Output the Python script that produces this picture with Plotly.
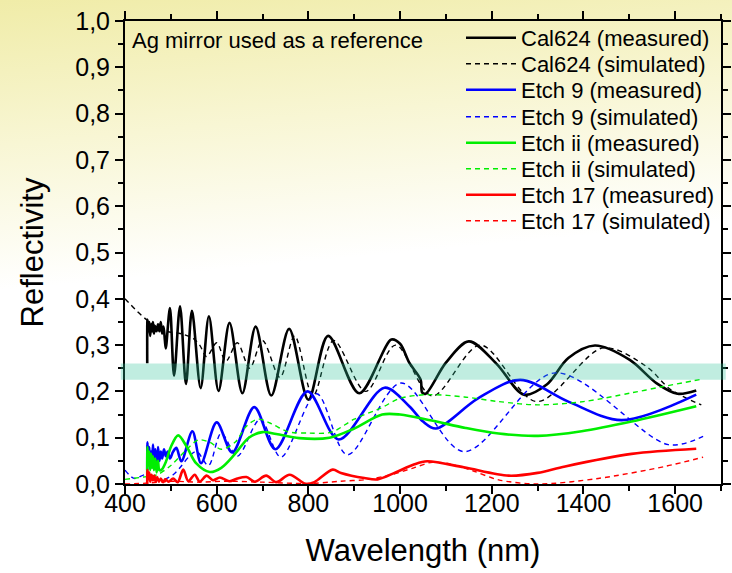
import base64
import plotly.graph_objects as go

# ---------------- data ----------------
cal_meas_wl = [448.5, 449, 451, 453, 455, 457, 459, 461, 463, 466, 469, 472, 475, 478, 481, 484, 487, 489,
               498, 507, 520, 533, 546, 565, 583, 604, 628, 656, 685, 719, 758, 800, 843, 911, 981, 1000,
               1020, 1045, 1048, 1056, 1100, 1150, 1210, 1270, 1320, 1367, 1425, 1501, 1559, 1605, 1646]
cal_meas_r = [0.261, 0.355, 0.33, 0.35, 0.32, 0.345, 0.33, 0.35, 0.325, 0.34, 0.33, 0.345, 0.33, 0.35, 0.325, 0.34, 0.31, 0.293,
              0.38, 0.234, 0.384, 0.216, 0.374, 0.207, 0.362, 0.201, 0.348, 0.196, 0.34, 0.191, 0.335, 0.182, 0.32, 0.196, 0.312, 0.303,
              0.262, 0.225, 0.198, 0.195, 0.262, 0.308, 0.26, 0.193, 0.215, 0.272, 0.299, 0.268, 0.218, 0.195, 0.202]

cal_sim_wl = [400, 447, 490, 520, 548, 563, 578, 600, 620, 645, 672, 700, 738, 770, 810, 855, 925, 990,
              1070, 1175, 1298, 1443, 1537, 1590, 1657]
cal_sim_r = [0.40, 0.355, 0.33, 0.325, 0.315, 0.30, 0.275, 0.305, 0.265, 0.305, 0.25, 0.31, 0.23, 0.32, 0.19, 0.31, 0.20, 0.30,
             0.19, 0.30, 0.178, 0.294, 0.254, 0.204, 0.171]

e9_meas_wl = [448.5, 449, 451, 453, 455, 457, 459, 461, 463, 466, 469, 472, 475, 478, 481, 485, 489, 493, 498, 505,
              512, 523, 547, 566, 600, 634, 682, 728, 798, 866, 966, 1020, 1050, 1078, 1170, 1262, 1367, 1483, 1646]
e9_meas_r = [0.03, 0.09, 0.05, 0.08, 0.04, 0.07, 0.045, 0.085, 0.05, 0.075, 0.04, 0.08, 0.05, 0.07, 0.055, 0.075, 0.06, 0.07, 0.055, 0.07,
             0.078, 0.049, 0.114, 0.045, 0.133, 0.068, 0.166, 0.075, 0.2, 0.096, 0.208, 0.168, 0.135, 0.12, 0.185, 0.225, 0.178, 0.138, 0.193]

e9_sim_wl = [400, 420, 445, 475, 505, 555, 582, 610, 645, 695, 740, 818, 885, 1002, 1139, 1338, 1585, 1661]
e9_sim_r = [0.03, 0.012, 0.02, 0.008, 0.02, 0.07, 0.04, 0.11, 0.06, 0.14, 0.058, 0.195, 0.063, 0.218, 0.07, 0.24, 0.085, 0.103]

eii_meas_wl = [448.5, 449, 451, 453, 455, 457, 459, 461, 463, 466, 469, 472, 475, 480, 490, 500, 516, 535, 555, 585,
               610, 640, 670, 700, 730, 780, 846, 900, 961, 1000, 1069, 1143, 1215, 1301, 1396, 1505, 1646]
eii_meas_r = [0.01, 0.08, 0.04, 0.07, 0.03, 0.065, 0.035, 0.06, 0.03, 0.055, 0.025, 0.05, 0.03, 0.031, 0.05, 0.08, 0.105, 0.08, 0.045, 0.026,
              0.035, 0.065, 0.1, 0.112, 0.108, 0.099, 0.1, 0.12, 0.15, 0.15, 0.137, 0.121, 0.109, 0.104, 0.114, 0.135, 0.168]

eii_sim_wl = [400, 440, 470, 500, 530, 560, 585, 610, 640, 665, 690, 720, 755, 800, 850, 900, 960, 1000, 1060,
              1140, 1215, 1300, 1400, 1505, 1577, 1661]
eii_sim_r = [0.01, 0.015, 0.02, 0.04, 0.07, 0.095, 0.09, 0.075, 0.09, 0.125, 0.14, 0.13, 0.113, 0.11, 0.112, 0.14, 0.165, 0.185, 0.193,
             0.188, 0.178, 0.171, 0.178, 0.197, 0.211, 0.227]

e17_meas_wl = [448.5, 449, 451, 453, 455, 458, 461, 464, 467, 470, 474, 478, 483, 488, 495, 505, 515, 527, 538, 552,
               563, 578, 592, 607, 628, 645, 665, 683, 708, 730, 759, 795, 813, 853, 871, 922, 951, 990, 1030, 1059,
               1139, 1237, 1300, 1360, 1505, 1646]
e17_meas_r = [0.0, 0.03, 0.01, 0.025, 0.005, 0.02, 0.008, 0.018, 0.005, 0.015, 0.005, 0.012, 0.004, 0.01, 0.005, 0.012, 0.004, 0.031, 0.006, 0.02,
              0.005, 0.018, 0.008, 0.014, 0.006, 0.012, 0.015, 0.005, 0.018, 0.004, 0.02, 0.0, 0.004, 0.031, 0.024, 0.013, 0.01, 0.025, 0.042, 0.049,
              0.036, 0.018, 0.024, 0.038, 0.065, 0.076]

e17_sim_wl = [400, 450, 500, 560, 620, 700, 800, 870, 930, 980, 1030, 1070, 1110, 1160, 1215, 1300, 1432, 1578, 1661]
e17_sim_r = [0.0, 0.002, 0.006, 0.004, 0.006, 0.004, 0.001, 0.006, 0.01, 0.02, 0.035, 0.047, 0.043, 0.028, 0.009, 0.0, 0.012, 0.038, 0.058]

names = ["Cal624 (measured)", "Cal624 (simulated)", "Etch 9 (measured)", "Etch 9 (simulated)",
         "Etch ii (measured)", "Etch ii (simulated)", "Etch 17 (measured)", "Etch 17 (simulated)"]
band_low, band_high = 0.225, 0.26
note_text = "Ag mirror used as a reference"

# ---------------- figure ----------------
W, H = 732, 573
ML, MR, MT, MB = 125, 11, 21, 89
PW, PH = W - ML - MR, H - MT - MB
FONT = "Liberation Sans, Arial, sans-serif"

series = [
    (cal_meas_wl, cal_meas_r, "#000000", "solid", 2.6),
    (cal_sim_wl, cal_sim_r, "#000000", "5px,4px", 1.4),
    (e9_meas_wl, e9_meas_r, "#0000ff", "solid", 2.6),
    (e9_sim_wl, e9_sim_r, "#0000ff", "5px,4px", 1.4),
    (eii_meas_wl, eii_meas_r, "#00ee00", "solid", 2.6),
    (eii_sim_wl, eii_sim_r, "#00ee00", "5px,4px", 1.4),
    (e17_meas_wl, e17_meas_r, "#ff0000", "solid", 2.6),
    (e17_sim_wl, e17_sim_r, "#ff0000", "5px,4px", 1.4),
]

fig = go.Figure()
legend_layout = {}
for i, ((xs, ys, col, dash, lw), nm) in enumerate(zip(series, names)):
    lname = "legend" if i == 0 else f"legend{i + 1}"
    fig.add_trace(go.Scatter(
        x=xs, y=ys, name=nm, mode="lines",
        line=dict(color=col, dash=dash, width=lw, shape="spline", smoothing=0.9),
        legend=lname,
    ))
    row_px = round(38.3 + 26.1 * i)
    legend_layout[lname] = dict(
        x=(461 - ML) / PW, y=(MT + PH - row_px) / PH,
        xanchor="left", yanchor="middle",
        bgcolor="rgba(0,0,0,0)", borderwidth=0,
        font=dict(family=FONT, size=22, color="#000000"),
        itemwidth=50,
    )

# teal reference band (drawn over the curves, semi-transparent)
fig.add_shape(type="rect", xref="paper", yref="y", x0=-0.007, x1=1.008,
              y0=band_low, y1=band_high, fillcolor="rgb(45,195,152)", opacity=0.3,
              line=dict(width=0), layer="above")

# yellow gradient background
svg = (f'<svg xmlns="http://www.w3.org/2000/svg" width="{W}" height="{H}" preserveAspectRatio="none">'
       '<defs><linearGradient id="g" x1="0" y1="0" x2="0.12" y2="1">'
       '<stop offset="0" stop-color="rgb(240,236,168)"/>'
       '<stop offset="0.25" stop-color="rgb(248,246,212)"/>'
       '<stop offset="0.5" stop-color="rgb(255,255,255)"/>'
       '<stop offset="1" stop-color="rgb(255,255,255)"/>'
       '</linearGradient></defs>'
       f'<rect width="{W}" height="{H}" fill="url(#g)"/></svg>')
src = "data:image/svg+xml;base64," + base64.b64encode(svg.encode()).decode()
fig.add_layout_image(dict(source=src, xref="paper", yref="paper",
                          x=-ML / PW, y=1 + MT / PH, sizex=W / PW, sizey=H / PH,
                          sizing="stretch", xanchor="left", yanchor="top", layer="below"))

fig.add_annotation(text=note_text, xref="paper", yref="paper",
                   x=(130 - ML) / PW, y=(MT + PH - 40) / PH, xanchor="left", yanchor="middle",
                   showarrow=False, font=dict(family=FONT, size=22, color="#000000"))

axis_common = dict(
    showline=True, linecolor="#000000", linewidth=2, mirror="allticks",
    ticks="outside", ticklen=8, tickwidth=2, tickcolor="#000000",
    showgrid=False, zeroline=False,
    tickfont=dict(family=FONT, size=25, color="#000000"),
)
fig.update_xaxes(range=[400, 1700], tick0=400, dtick=200, ticklabelstandoff=-12,
                 minor=dict(dtick=100, ticks="outside", ticklen=5, tickwidth=1.5, tickcolor="#000000"),
                 title=dict(text="Wavelength (nm)", font=dict(family=FONT, size=31, color="#000000"), standoff=23),
                 **axis_common)
fig.update_yaxes(range=[0, 1], tick0=0, dtick=0.1, tickformat=".1f",
                 minor=dict(dtick=0.05, ticks="outside", ticklen=5, tickwidth=1.5, tickcolor="#000000"),
                 title=dict(text="Reflectivity", font=dict(family=FONT, size=31, color="#000000"), standoff=22),
                 **axis_common)

fig.update_layout(
    width=W, height=H,
    margin=dict(l=ML, r=MR, t=MT, b=MB, autoexpand=False),
    paper_bgcolor="#ffffff", plot_bgcolor="rgba(0,0,0,0)",
    separators=", ",
    font=dict(family=FONT, color="#000000"),
    showlegend=True,
    **legend_layout,
)

fig.write_html("out.html")
